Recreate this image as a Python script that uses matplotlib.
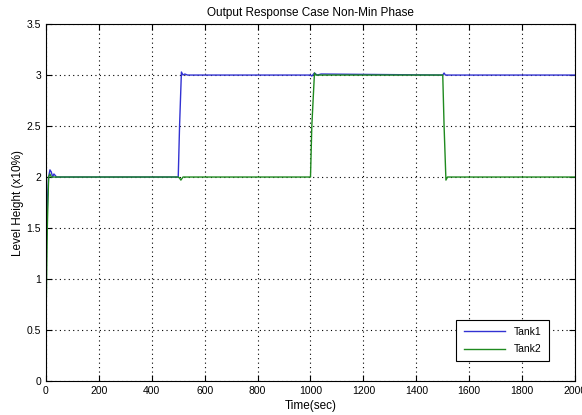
import matplotlib.pyplot as plt
import numpy as np

plt.rcParams['font.family'] = ['Liberation Sans', 'DejaVu Sans']

# Tank1 (blue) breakpoints
t1 = [0, 3, 6, 10, 15, 20, 25, 30, 40, 500, 505, 512, 518, 525, 535,
      1000, 1005, 1015, 1025, 1040, 1500, 1505, 1510, 1520, 2000]
y1 = [1.3, 1.45, 1.8, 2.0, 2.07, 2.05, 2.0, 2.03, 2.0, 2.0, 2.5, 3.03, 3.0, 3.01, 3.0,
      3.0, 2.99, 3.02, 3.0, 3.01, 3.0, 3.02, 3.0, 3.0, 3.0]

# Tank2 (green)
t2 = [0, 5, 10, 15, 20, 500, 505, 510, 518, 525,
      1000, 1005, 1015, 1020, 1030, 1500, 1505, 1512, 1518, 1525, 2000]
y2 = [0.57, 1.5, 2.0, 2.03, 2.0, 2.0, 1.99, 1.97, 2.0, 2.0,
      2.0, 2.5, 3.02, 3.0, 3.0, 3.0, 2.5, 1.97, 2.0, 2.0, 2.0]

fig = plt.figure(figsize=(5.82, 4.15), dpi=100)
ax = fig.add_axes([0.079, 0.082, 0.909, 0.86])

ax.plot(t1, y1, color='#3232d2', lw=1, label='Tank1')
ax.plot(t2, y2, color='#1f8a1f', lw=1, label='Tank2')

ax.set_xlim(0, 2000)
ax.set_ylim(0, 3.5)
ax.set_xticks(np.arange(0, 2001, 200))
ax.set_yticks(np.arange(0, 3.51, 0.5))
ax.set_yticklabels(['0', '0.5', '1', '1.5', '2', '2.5', '3', '3.5'])
ax.grid(True, color='black', linestyle=(0, (1, 3)), lw=0.8)
ax.tick_params(direction='in', top=True, right=True, labelsize=7.5, length=4)
for s in ax.spines.values():
    s.set_linewidth(0.8)

ax.set_title('Output Response Case Non-Min Phase', fontsize=8.5, pad=6)
ax.set_xlabel('Time(sec)', fontsize=8.5, labelpad=3)
ax.set_ylabel('Level Height (x10%)', fontsize=8.5, labelpad=2)

leg = ax.legend(loc='lower right', bbox_to_anchor=(0.96, 0.04), fontsize=7.5,
                fancybox=False, edgecolor='black', framealpha=1, handlelength=4,
                borderpad=0.7, labelspacing=0.7)
leg.get_frame().set_linewidth(0.8)

plt.savefig('out.png')
